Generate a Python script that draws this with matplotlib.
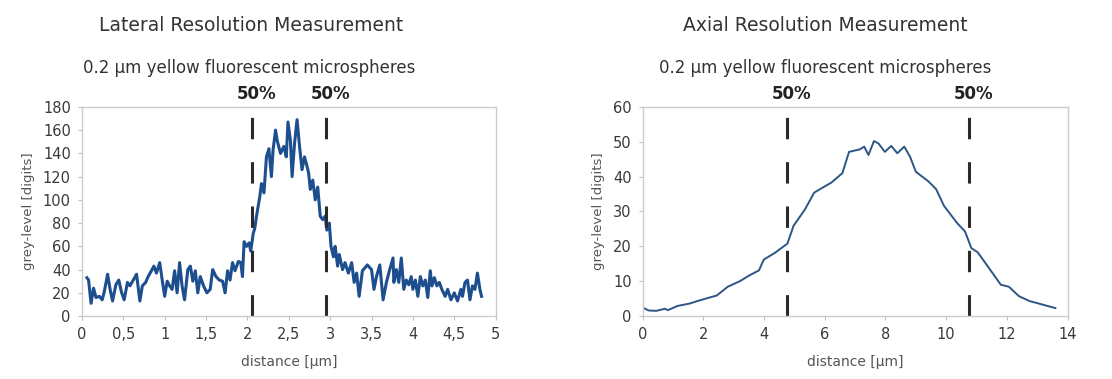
import numpy as np
import matplotlib
matplotlib.use('Agg')
import matplotlib.pyplot as plt

plt.rcParams['font.family'] = ['DejaVu Sans']

# lateral profile (distance in um, grey level)
lat_x = [0.06, 0.08, 0.11, 0.14, 0.17, 0.21, 0.245, 0.27, 0.31, 0.34, 0.37, 0.41,
         0.445, 0.48, 0.51, 0.55, 0.58, 0.62, 0.66, 0.70, 0.73, 0.77, 0.80, 0.84,
         0.87, 0.90, 0.94, 0.97, 1.0, 1.03, 1.06, 1.09, 1.12, 1.15, 1.18, 1.21,
         1.24, 1.28, 1.31, 1.34, 1.37, 1.40, 1.43, 1.47, 1.51, 1.55, 1.58, 1.62,
         1.66, 1.70, 1.73, 1.76, 1.79, 1.82, 1.85, 1.89, 1.92, 1.94, 1.96, 1.99,
         2.02, 2.04, 2.07, 2.09, 2.11, 2.15, 2.17, 2.20, 2.23, 2.26, 2.29, 2.31,
         2.34, 2.36, 2.40, 2.44, 2.47, 2.49, 2.52, 2.54, 2.57, 2.60, 2.63, 2.66,
         2.69, 2.72, 2.74, 2.76, 2.79, 2.82, 2.85, 2.88, 2.91, 2.94, 2.96, 2.99,
         3.01, 3.04, 3.06, 3.09, 3.11, 3.15, 3.18, 3.22, 3.26, 3.29, 3.32, 3.35,
         3.39, 3.45, 3.50, 3.53, 3.56, 3.60, 3.64, 3.68, 3.72, 3.76, 3.77, 3.80,
         3.83, 3.86, 3.89, 3.92, 3.95, 3.98, 4.0, 4.03, 4.06, 4.09, 4.12, 4.15,
         4.18, 4.21, 4.23, 4.26, 4.29, 4.32, 4.35, 4.39, 4.42, 4.46, 4.50, 4.54,
         4.58, 4.60, 4.63, 4.66, 4.69, 4.72, 4.75, 4.78, 4.81, 4.83]
lat_y = [33, 31, 11, 24, 16, 17, 14, 21, 36, 23, 13, 27,
         31, 20, 14, 29, 26, 31, 36, 13, 26, 29, 34, 39,
         43, 37, 46, 31, 17, 30, 26, 23, 39, 20, 46, 26,
         14, 40, 43, 30, 39, 20, 34, 26, 20, 23, 40, 34,
         31, 30, 20, 39, 31, 46, 39, 47, 46, 34, 64, 60,
         63, 56, 71, 76, 86, 103, 114, 106, 137, 144, 120, 143,
         160, 151, 140, 146, 137, 167, 151, 120, 149, 169, 146, 126,
         137, 129, 123, 109, 117, 100, 111, 86, 83, 86, 74, 80,
         60, 51, 60, 43, 53, 40, 46, 37, 46, 29, 37, 17,
         39, 44, 40, 23, 34, 44, 14, 29, 40, 50, 29, 40,
         29, 50, 23, 31, 27, 34, 23, 31, 17, 34, 26, 31,
         16, 39, 26, 33, 26, 29, 23, 17, 23, 14, 20, 13,
         23, 17, 29, 31, 14, 26, 23, 37, 23, 17]

# axial profile
ax_x = [0.0, 0.2, 0.45, 0.73, 0.83, 1.14, 1.55, 1.76, 2.07, 2.44, 2.8, 3.2,
        3.52, 3.83, 3.99, 4.35, 4.77, 4.97, 5.34, 5.65, 5.9, 6.22, 6.58, 6.8,
        7.15, 7.3, 7.44, 7.62, 7.77, 7.98, 8.19, 8.39, 8.62, 8.81, 9.0, 9.42,
        9.67, 9.93, 10.36, 10.62, 10.83, 11.04, 11.45, 11.8, 12.07, 12.4,
        12.75, 13.05, 13.3, 13.6]
ax_y = [2.4, 1.6, 1.5, 2.1, 1.7, 2.9, 3.6, 4.2, 5.0, 5.9, 8.4, 10.0,
        11.7, 13.1, 16.2, 18.1, 20.8, 25.9, 30.5, 35.4, 36.7, 38.3, 41.0, 47.1,
        47.8, 48.6, 46.2, 50.2, 49.5, 47.1, 48.8, 46.7, 48.6, 45.7, 41.4, 38.6,
        36.4, 31.6, 26.7, 24.3, 19.5, 18.3, 13.3, 9.0, 8.4, 5.7,
        4.3, 3.6, 3.0, 2.3]

lat_marks = [2.05, 2.95]
ax_marks = [4.75, 10.75]

lat_ticks = [0, 0.5, 1, 1.5, 2, 2.5, 3, 3.5, 4, 4.5, 5]
lat_ticklabels = ['0', '0,5', '1', '1,5', '2', '2,5', '3', '3,5', '4', '4,5', '5']
lat_yticks = [0, 20, 40, 60, 80, 100, 120, 140, 160, 180]
ax_ticks = [0, 2, 4, 6, 8, 10, 12, 14]
ax_yticks = [0, 10, 20, 30, 40, 50, 60]

fig = plt.figure(figsize=(11.12, 3.79), dpi=100, facecolor='white')
ax1 = fig.add_axes([0.0737, 0.166, 0.372, 0.552])
ax2 = fig.add_axes([0.578, 0.166, 0.382, 0.552])


def style(ax, xt, xtl, yt, xlim, ylim):
    ax.set_xlim(xlim)
    ax.set_ylim(ylim)
    ax.set_xticks(xt)
    ax.set_xticklabels(xtl)
    ax.set_yticks(yt)
    for s in ax.spines.values():
        s.set_color('#cccccc')
        s.set_linewidth(1.0)
    ax.tick_params(colors='#c0c0c0', labelcolor='#3a3a3a', labelsize=10.5,
                   length=3, width=0.8, pad=5)
    ax.set_xlabel('distance [µm]', fontsize=10, color='#555555', labelpad=9)
    ax.set_ylabel('grey-level [digits]', fontsize=9.5, color='#555555', labelpad=6)


ax1.plot(lat_x, lat_y, color='#1d4f8f', lw=2.2)
for m in lat_marks:
    ax1.axvline(m, color='#2a2a2a', lw=2.2, dashes=(7, 7.5))
    ax1.text(m + 0.06, 1.02, '50%', transform=ax1.get_xaxis_transform(),
             ha='center', va='bottom', fontsize=12, weight='bold', color='#222222')
style(ax1, lat_ticks, lat_ticklabels, lat_yticks, (0, 5), (0, 180))

ax2.plot(ax_x, ax_y, color='#2d5585', lw=1.4)
for m in ax_marks:
    ax2.axvline(m, color='#2a2a2a', lw=2.2, dashes=(7, 7.5))
    ax2.text(m + 0.15, 1.02, '50%', transform=ax2.get_xaxis_transform(),
             ha='center', va='bottom', fontsize=12, weight='bold', color='#222222')
style(ax2, ax_ticks, [str(t) for t in ax_ticks], ax_yticks, (0, 14), (0, 60))

fig.text(0.226, 0.934, 'Lateral Resolution Measurement', ha='center', va='center',
         fontsize=13.5, color='#333333')
fig.text(0.2245, 0.821, '0.2 µm yellow fluorescent microspheres', ha='center',
         va='center', fontsize=12, color='#333333')
fig.text(0.742, 0.934, 'Axial Resolution Measurement', ha='center', va='center',
         fontsize=13.5, color='#333333')
fig.text(0.742, 0.821, '0.2 µm yellow fluorescent microspheres', ha='center',
         va='center', fontsize=12, color='#333333')

fig.savefig('out.png', dpi=100, facecolor='white')
